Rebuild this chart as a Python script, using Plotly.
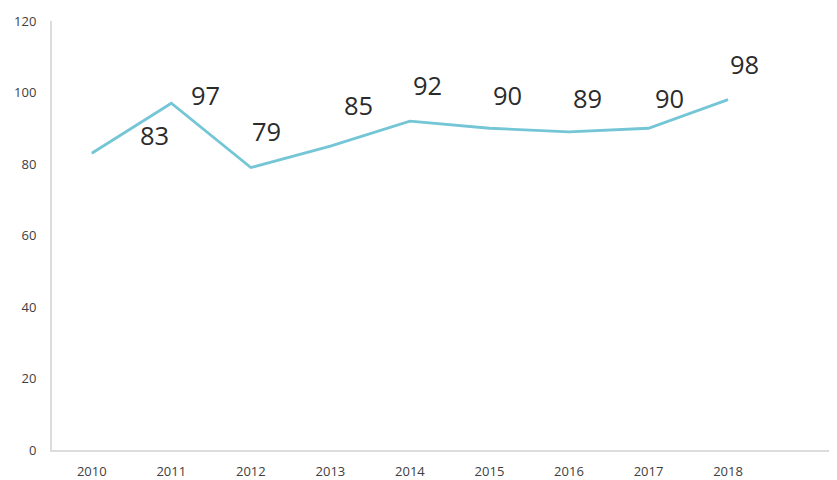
import plotly.graph_objects as go

years = ["2010", "2011", "2012", "2013", "2014", "2015", "2016", "2017", "2018"]
values = [83, 97, 79, 85, 92, 90, 89, 90, 98]
y_ticks = [0, 20, 40, 60, 80, 100, 120]

# pixel offsets of the value labels relative to their points (style)
label_dx = [63, 34, 16, 28, 18, 18, 19, 21, 16]
label_dy = [18, 8, 37, 41, 36, 33, 34, 30, 36]

fig = go.Figure()
fig.add_trace(go.Scatter(
    x=list(range(len(years))), y=values, mode="lines",
    line=dict(color="#74c6d6", width=2.8),
    hoverinfo="y", showlegend=False,
))

for i, v in enumerate(values):
    fig.add_annotation(
        x=i, y=v, xref="x", yref="y", text=str(v), showarrow=False,
        xshift=label_dx[i], yshift=label_dy[i],
        font=dict(family="Open Sans", size=25.5, color="#2b2b2b"),
    )

fig.update_layout(
    width=829, height=472,
    margin=dict(l=44, r=0, t=13, b=27),
    paper_bgcolor="white", plot_bgcolor="white",
    font=dict(family="Open Sans", size=13, color="#404040"),
    xaxis=dict(
        range=[-0.5, 9.37],
        tickvals=list(range(len(years))), ticktext=years,
        showgrid=False, zeroline=False,
        showline=True, linecolor="#dcdcdc", linewidth=2,
        ticks="", ticklabelstandoff=8,
        tickfont=dict(size=13, color="#404040"),
    ),
    yaxis=dict(
        range=[0, 120], tickvals=y_ticks,
        showgrid=False, zeroline=False,
        showline=True, linecolor="#dcdcdc", linewidth=2,
        ticks="", ticklabelstandoff=11,
        tickfont=dict(size=13, color="#404040"),
    ),
)

fig.write_html("out.html")
